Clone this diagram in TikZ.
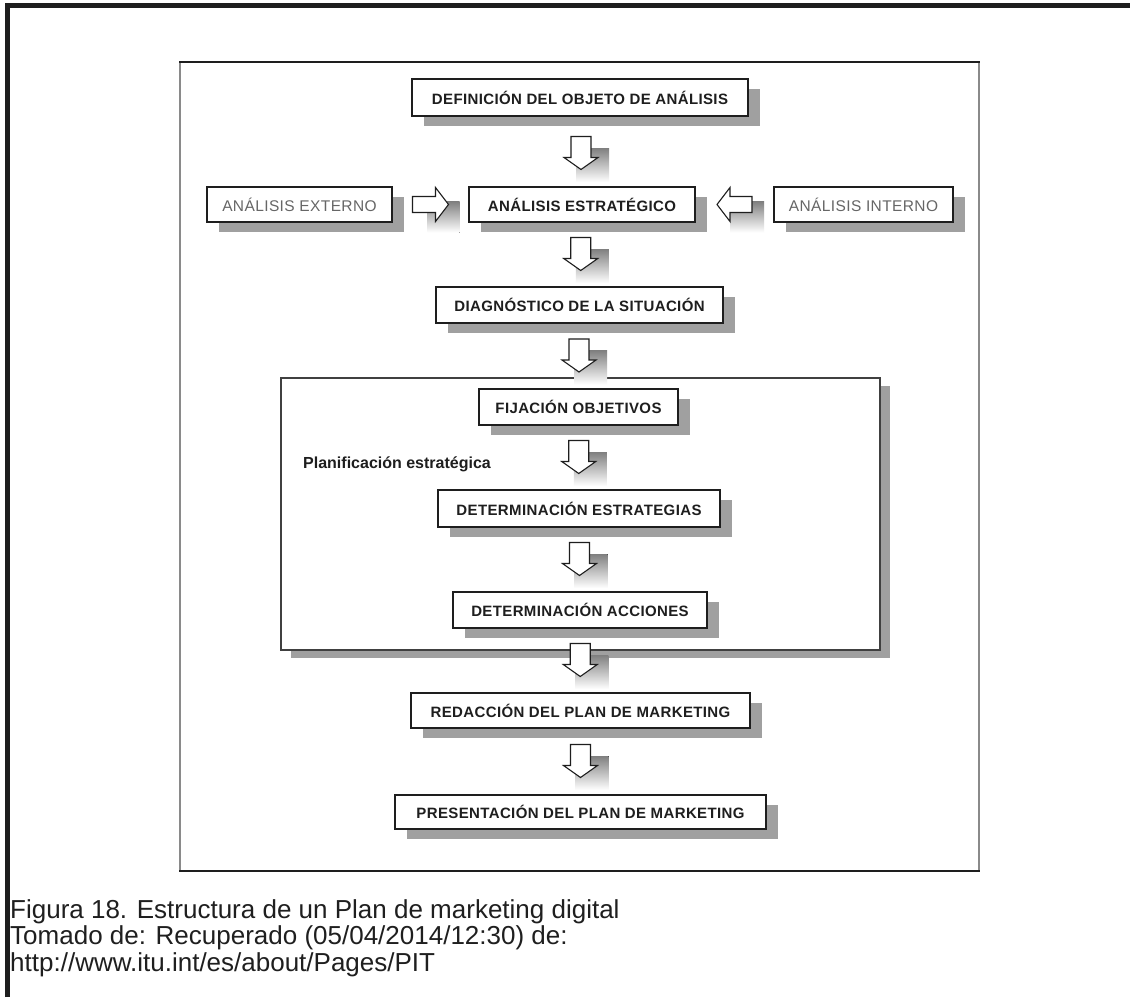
\documentclass[tikz,border=0pt]{standalone}
\usepackage{fontspec}
\setmainfont{Liberation Sans}
\newfontfamily\boxfont[LetterSpace=2.5]{Liberation Sans}
\usetikzlibrary{calc,shadows}
\definecolor{shade}{HTML}{A0A0A0}
\definecolor{ink}{HTML}{1E1E1E}
\definecolor{framegray}{HTML}{8A8A8A}
\tikzset{
  box/.style={draw=ink, line width=1.4pt, fill=white, inner sep=0pt,
    font=\boxfont\bfseries\fontsize{15}{18}\selectfont, text=ink,
    drop shadow={shadow xshift=12pt, shadow yshift=-10pt, fill=shade, opacity=1}},
  lightbox/.style={box, font=\boxfont\fontsize{15.5}{18}\selectfont, text=black!60},
  planframe/.style={draw=black!75, line width=1.5pt, fill=white, inner sep=0pt,
    drop shadow={shadow xshift=10pt, shadow yshift=-8pt, fill=shade, opacity=1}},
  blockarrow/.style={draw=ink, line width=1.1pt, fill=white, line join=miter},
  caption/.style={anchor=base west, inner sep=0pt, text=black!88,
    font=\fontsize{26}{30}\selectfont},
  planlabel/.style={anchor=west, inner sep=0pt, text=ink,
    font=\bfseries\fontsize{16}{19}\selectfont},
  downarr/.pic={
    \fill[shade] (-5,-5.5) rectangle (28,28.5);
    \draw[blockarrow] (-10,-17) -- (10,-17) -- (10,4) -- (17,4) -- (0,16) -- (-17,4) -- (-10,4) -- cycle;
  },
  rightarr/.pic={
    \fill[shade] (-3,-3) rectangle (29,28);
    \draw[blockarrow] (-18,-8) -- (5,-8) -- (5,-17) -- (18,0) -- (5,17) -- (5,8) -- (-18,8) -- cycle;
  },
  leftarr/.pic={
    \fill[shade] (-4.5,-3) rectangle (29.5,28);
    \draw[blockarrow] (17.5,-8) -- (-4.5,-8) -- (-4.5,-17) -- (-17.5,0) -- (-4.5,17) -- (-4.5,8) -- (17.5,8) -- cycle;
  }
}
\begin{document}
\begin{tikzpicture}[x=1pt,y=-1pt]
\useasboundingbox (0,0) rectangle (1130,997);
\fill[white] (0,0) rectangle (1130,997);
% outer page borders
\draw[line width=5pt, ink] (7.5,997) -- (7.5,5.5) -- (1130,5.5);
% photo frame
\draw[line width=2pt, framegray] (180,62) -- (180,871);
\draw[line width=2pt, framegray] (979,62) -- (979,871);
\draw[line width=2pt, ink] (179,62) -- (980,62);
\draw[line width=2pt, ink] (179,871) -- (980,871);
% planning frame
\node[planframe, minimum width=599pt, minimum height=272pt] (plan) at (580.5,514) {};
\node[planlabel] (plab) at (303,464) {Planificación estratégica};
% boxes
\node[box, minimum width=336pt, minimum height=37pt] (def) at (580,97.5) {DEFINICIÓN DEL OBJETO DE ANÁLISIS};
\node[box, minimum width=226pt, minimum height=35pt] (ae) at (582,204.5) {ANÁLISIS ESTRATÉGICO};
\node[lightbox, minimum width=185pt, minimum height=35pt] (ext) at (299.5,204.5) {ANÁLISIS EXTERNO};
\node[lightbox, minimum width=179pt, minimum height=35pt] (int) at (863.5,204.5) {ANÁLISIS INTERNO};
\node[box, minimum width=287pt, minimum height=36pt] (diag) at (579.5,305) {DIAGNÓSTICO DE LA SITUACIÓN};
\node[box, minimum width=199pt, minimum height=36pt] (fij) at (578.5,407) {FIJACIÓN OBJETIVOS};
\node[box, minimum width=282pt, minimum height=37pt] (dest) at (579,508.5) {DETERMINACIÓN ESTRATEGIAS};
\node[box, minimum width=254pt, minimum height=36pt] (acc) at (580,610) {DETERMINACIÓN ACCIONES};
\node[box, minimum width=339pt, minimum height=35pt] (red) at (580.5,710.5) {REDACCIÓN DEL PLAN DE MARKETING};
\node[box, minimum width=371pt, minimum height=34pt] (pres) at (580.5,812) {PRESENTACIÓN DEL PLAN DE MARKETING};
% block arrows
\pic at ($(def.south)!0.5!(ae.north)+(0,2)$) {downarr};
\pic at ($(ae.south)!0.5!(diag.north)$) {downarr};
\pic at ($(diag.south)!0.5!(fij.north)$) {downarr};
\pic at ($(fij.south)!0.5!(dest.north)$) {downarr};
\pic at ($(dest.south)!0.5!(acc.north)$) {downarr};
\pic at ($(acc.south)!0.5!(red.north)$) {downarr};
\pic at ($(red.south)!0.5!(pres.north)$) {downarr};
\pic at ($(ext.east)!0.5!(ae.west)$) {rightarr};
\pic at ($(ae.east)!0.5!(int.west)$) {leftarr};
% caption
\node[caption] (cap1) at (10,918) {Figura 18. Estructura de un Plan de marketing digital};
\node[caption] (cap2) at (10,944.5) {Tomado de: Recuperado (05/04/2014/12:30) de:};
\node[caption] (cap3) at (10,971) {http://www.itu.int/es/about/Pages/PIT};
\end{tikzpicture}
\end{document}
